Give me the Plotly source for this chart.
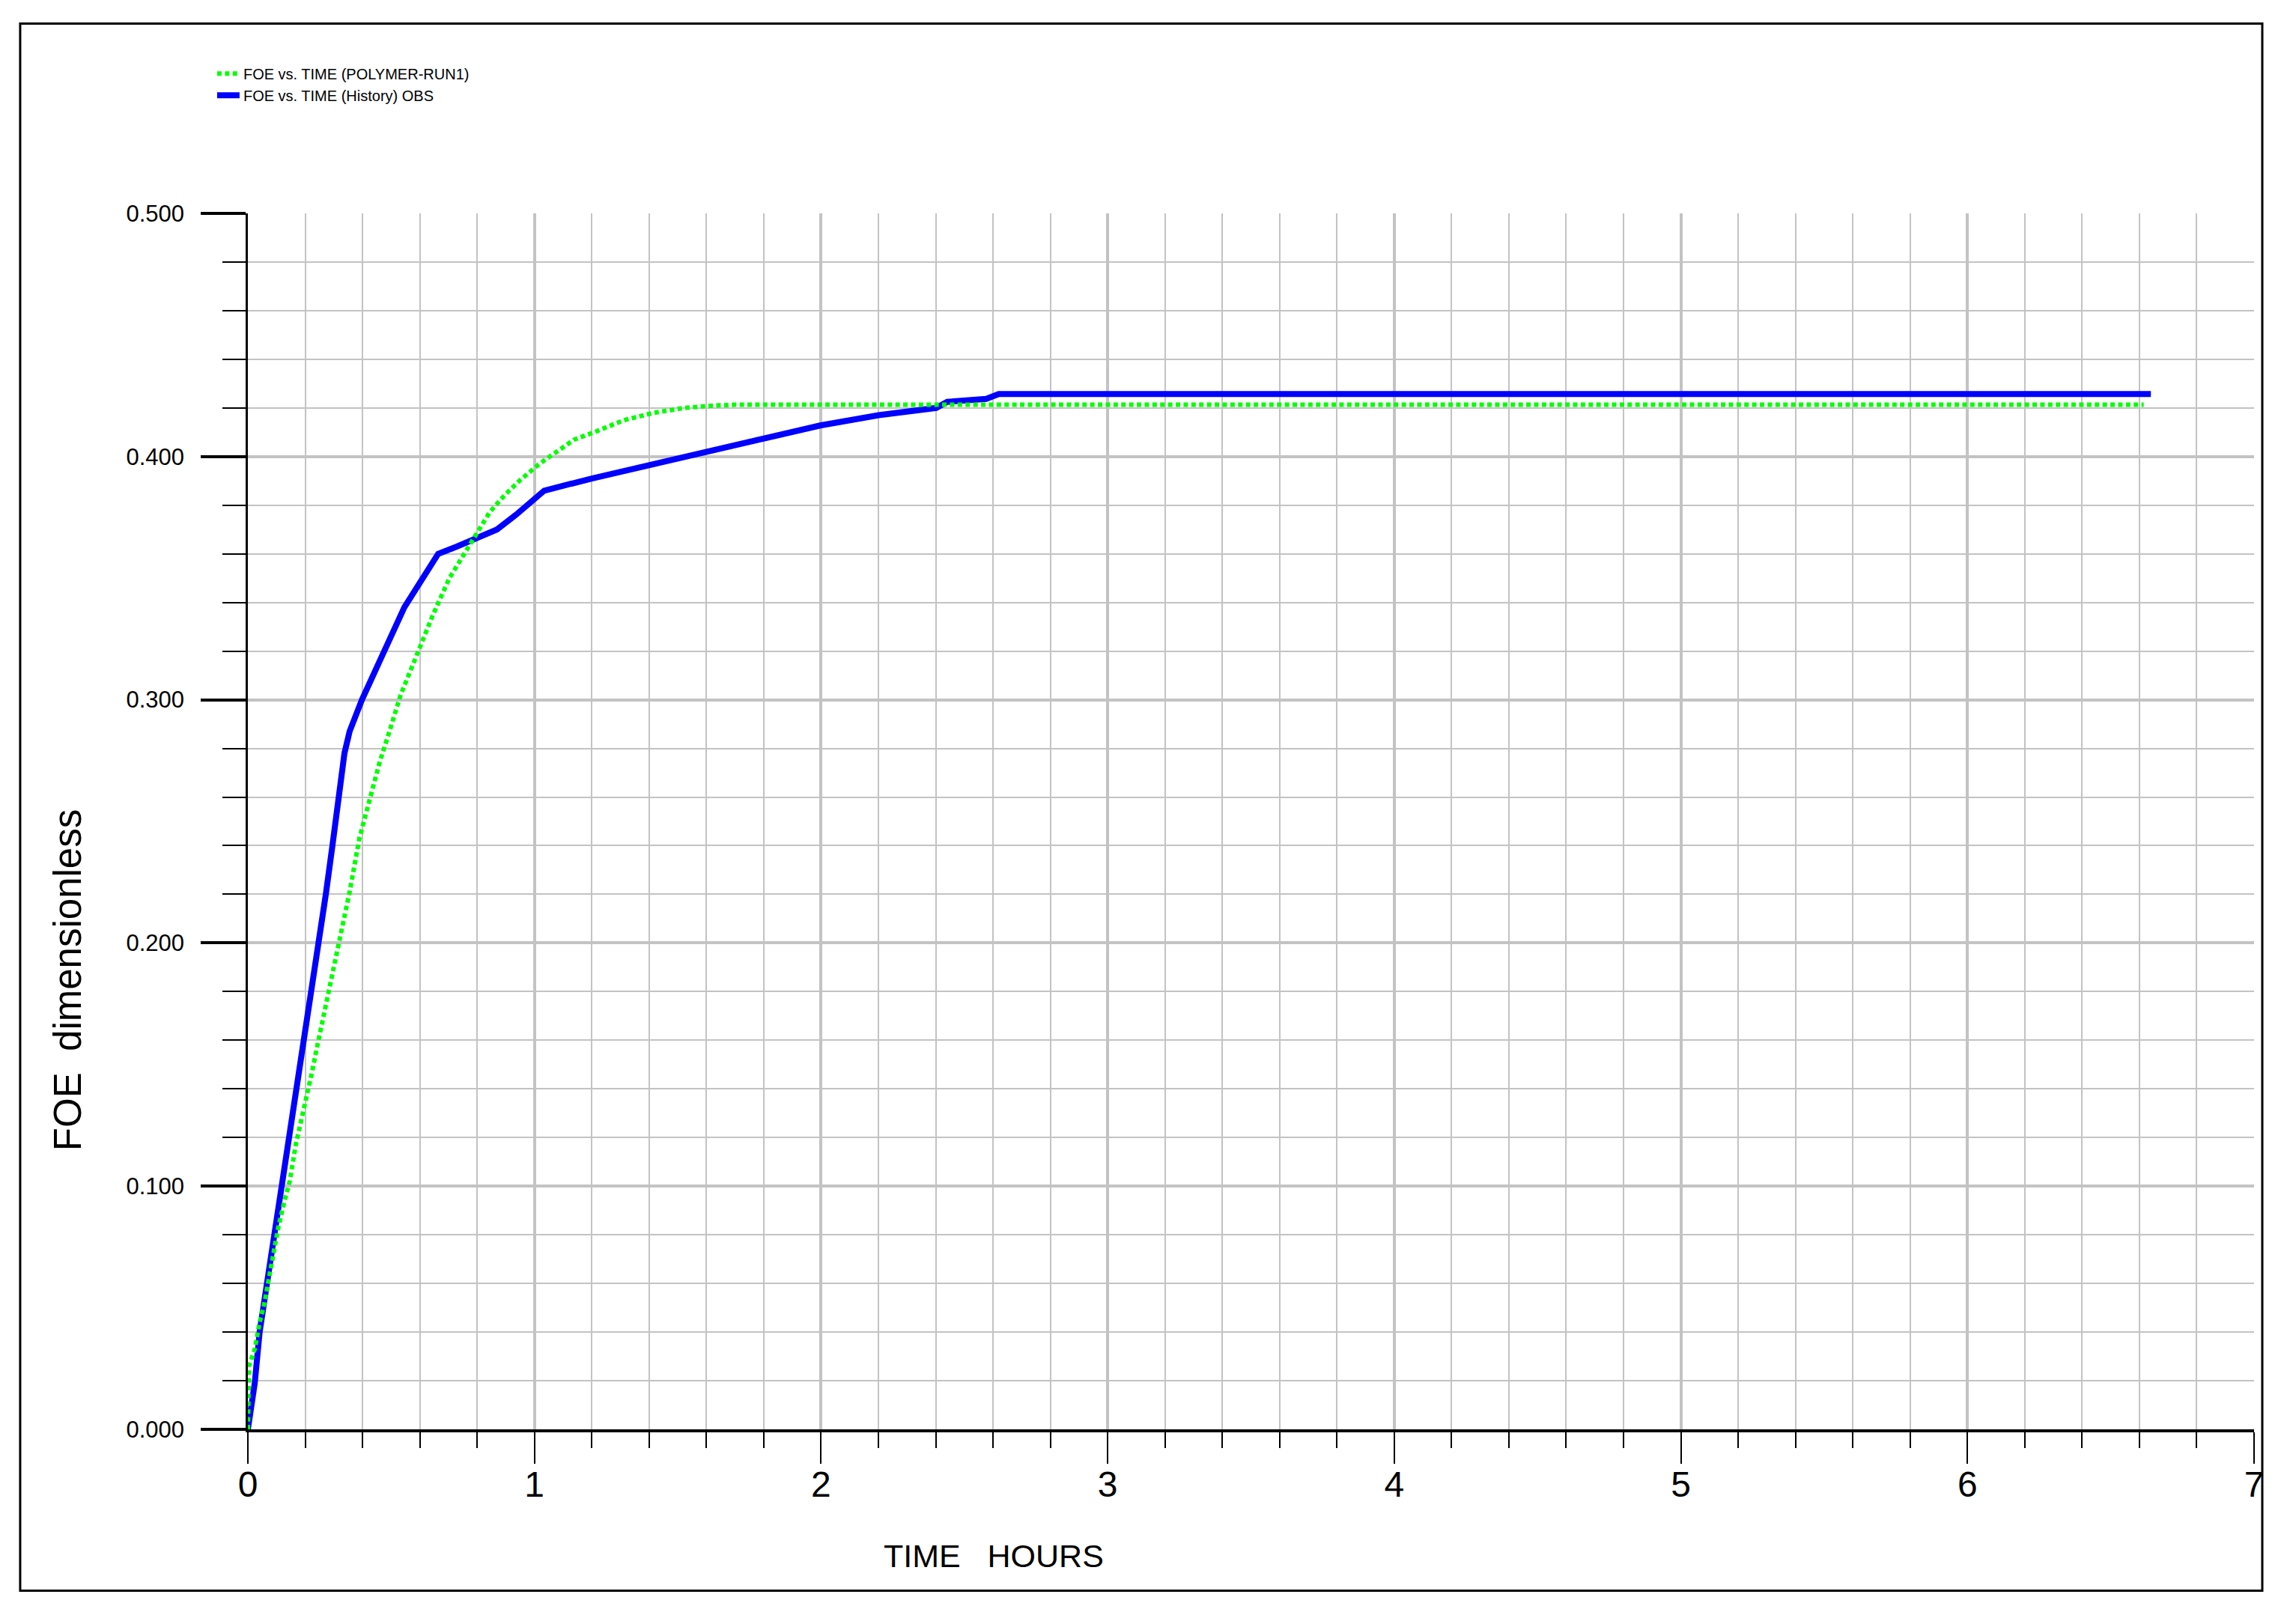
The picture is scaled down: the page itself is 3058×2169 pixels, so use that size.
import plotly.graph_objects as go

# FOE vs TIME - simulated run and observed history

# simulated (POLYMER-RUN1)
time_sim = [0.0, 0.004, 0.024, 0.041, 0.058, 0.071, 0.089, 0.106, 0.128, 0.146, 0.167, 0.185,
            0.202, 0.224, 0.241, 0.285, 0.320, 0.355, 0.389, 0.424, 0.459, 0.494, 0.533,
            0.581, 0.646, 0.703, 0.755, 0.790, 0.843, 0.895, 0.947, 1.017, 1.087, 1.139,
            1.208, 1.313, 1.417, 1.522, 1.627, 1.70, 2.5, 3.5, 4.5, 5.5, 6.615]
foe_sim = [0.0, 0.026, 0.033, 0.044, 0.052, 0.061, 0.071, 0.083, 0.094, 0.102, 0.117, 0.126,
           0.136, 0.147, 0.157, 0.181, 0.202, 0.221, 0.243, 0.259, 0.274, 0.287, 0.302,
           0.316, 0.335, 0.350, 0.360, 0.367, 0.377, 0.384, 0.390, 0.397, 0.403, 0.407,
           0.410, 0.415, 0.418, 0.420, 0.421, 0.4213, 0.4213, 0.4213, 0.4213, 0.4213, 0.4213]

# observed history
time_obs = [0.0, 0.015, 0.024, 0.041, 0.063, 0.084, 0.115, 0.146, 0.172, 0.196, 0.220, 0.246,
            0.272, 0.295, 0.315, 0.337, 0.355, 0.398, 0.468, 0.546, 0.605, 0.664, 0.729,
            0.790, 0.869, 0.935, 0.999, 1.034, 1.200, 1.400, 1.600, 1.801, 1.997, 2.201,
            2.402, 2.440, 2.576, 2.620, 4.0, 5.5, 6.64]
foe_obs = [0.0, 0.011, 0.019, 0.040, 0.057, 0.076, 0.099, 0.120, 0.141, 0.159, 0.179, 0.200,
           0.220, 0.240, 0.259, 0.278, 0.287, 0.300, 0.318, 0.338, 0.349, 0.360, 0.363,
           0.366, 0.370, 0.376, 0.382, 0.386, 0.391, 0.3966, 0.402, 0.4075, 0.4128, 0.417,
           0.420, 0.4225, 0.4237, 0.4257, 0.4257, 0.4257, 0.4257]

x_ticks = [0, 1, 2, 3, 4, 5, 6, 7]

fig = go.Figure()

fig.add_trace(go.Scatter(x=time_obs, y=foe_obs, mode='lines',
                         name='FOE vs. TIME (History) OBS',
                         line=dict(color='#0000ff', width=8)))
fig.add_trace(go.Scatter(x=time_sim, y=foe_sim, mode='lines',
                         name='FOE vs. TIME (POLYMER-RUN1)',
                         line=dict(color='#00ff00', width=6, dash='6px,4.4px')))

grid = '#c3c3c3'
fig.update_xaxes(range=[0, 7], tickvals=x_ticks, showline=True, linecolor='black', linewidth=4,
                 ticks='outside', ticklen=42, tickwidth=2, tickcolor='black',
                 showgrid=True, gridcolor=grid, gridwidth=3.5, zeroline=False,
                 ticklabelstandoff=-14,
                 tickfont=dict(family='Liberation Sans', size=48, color='black'),
                 minor=dict(dtick=0.2, ticks='outside', ticklen=21, tickwidth=2,
                            tickcolor='black', showgrid=True, gridcolor=grid, gridwidth=2))
fig.update_yaxes(range=[0, 0.5], dtick=0.1, tickformat='.3f', showline=True,
                 linecolor='black', linewidth=2.5,
                 ticks='outside', ticklen=60, tickwidth=3.5, tickcolor='black',
                 showgrid=True, gridcolor=grid, gridwidth=3.5, zeroline=False,
                 ticklabelstandoff=16,
                 tickfont=dict(family='Liberation Sans', size=31, color='black'),
                 minor=dict(dtick=0.02, ticks='outside', ticklen=31, tickwidth=2,
                            tickcolor='black', showgrid=True, gridcolor=grid, gridwidth=2))

fig.update_layout(
    width=3050, height=2161,
    margin=dict(l=323, r=48, t=277, b=260),
    plot_bgcolor='white', paper_bgcolor='white',
    legend=dict(x=-0.0172, y=1.127, xanchor='left', yanchor='top', traceorder='reversed',
                bgcolor='rgba(0,0,0,0)', font=dict(family='Liberation Sans', size=20, color='black')),
    shapes=[dict(type='rect', xref='paper', yref='paper', x0=-0.1135, x1=1.0041,
                 y0=-0.1327, y1=1.1561, line=dict(color='black', width=3), layer='below')],
    annotations=[
        dict(text='TIME\u00a0\u00a0\u00a0HOURS', xref='paper', yref='paper', x=0.3718, y=-0.1038,
             xanchor='center', yanchor='middle', showarrow=False,
             font=dict(family='Liberation Sans', size=43, color='black')),
        dict(text='FOE\u00a0\u00a0dimensionless', xref='paper', yref='paper', x=-0.090, y=0.3693,
             xanchor='center', yanchor='middle', textangle=-90, showarrow=False,
             font=dict(family='Liberation Sans', size=51, color='black')),
    ],
)

fig.write_html("out.html")
